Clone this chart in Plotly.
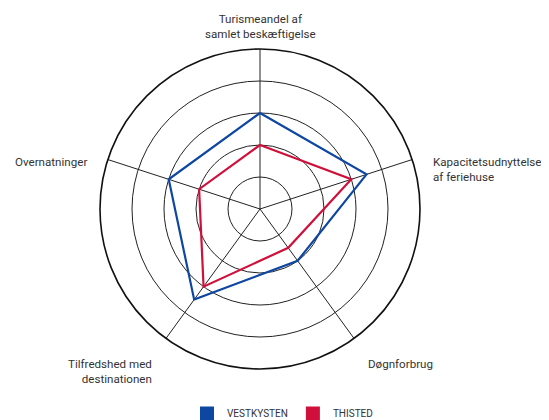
import math
import plotly.graph_objects as go

categories = [
    "Turismeandel af<br>samlet beskæftigelse",
    "Kapacitetsudnyttelse<br>af feriehuse",
    "Døgnforbrug",
    "Tilfredshed med<br>destinationen",
    "Overnatninger",
]
vestkysten = [3.0, 3.5, 2.0, 3.5, 3.0]
thisted = [2.0, 3.0, 1.5, 3.0, 2.0]
series_names = ["VESTKYSTEN", "THISTED"]
colors = ["#0D47A1", "#D0103A"]

fig = go.Figure()
for name, vals, col in zip(series_names, [vestkysten, thisted], colors):
    fig.add_trace(go.Scatterpolar(
        r=vals + vals[:1], theta=categories + categories[:1],
        mode="lines", line=dict(color=col, width=2.2),
        showlegend=False, hoverinfo="skip",
    ))
for name, col in zip(series_names, colors):
    fig.add_trace(go.Scatterpolar(
        r=[None], theta=[categories[0]], mode="markers", name=name,
        marker=dict(symbol="square", size=14, color=col),
    ))

W, H = 549, 420
cx, cy, R = 252, 201, 160

# category labels placed around the outer circle
annotations = []
n = len(categories)
for i, lab in enumerate(categories):
    ang = math.pi / 2 - 2 * math.pi * i / n
    c, s = math.cos(ang), math.sin(ang)
    if abs(c) < 0.1:
        d = R + 6
        xa, ya = "center", ("bottom" if s > 0 else "top")
    else:
        d = R + 20
        xa, ya = ("left" if c > 0 else "right"), "top"
    px = cx + d * c
    py = cy - d * s
    annotations.append(dict(
        text=lab, x=px / W, y=1 - py / H, xref="paper", yref="paper",
        xanchor=xa, yanchor=ya, align=xa if xa != "center" else "center",
        showarrow=False, font=dict(size=11.6, color="#333333"),
    ))

fig.update_layout(
    width=W, height=H,
    margin=dict(l=0, r=0, t=0, b=0),
    paper_bgcolor="white", plot_bgcolor="white",
    font=dict(family="Roboto", size=12, color="#333333"),
    annotations=annotations,
    polar=dict(
        domain=dict(x=[(cx - R) / W, (cx + R) / W], y=[(H - cy - R) / H, (H - cy + R) / H]),
        bgcolor="white",
        radialaxis=dict(range=[0, 5], tickvals=[1, 2, 3, 4], showticklabels=False,
                        ticks="", showline=False, gridcolor="#222222", gridwidth=1),
        angularaxis=dict(direction="clockwise", rotation=90, ticks="",
                         showticklabels=False,
                         showline=True, linecolor="#111111", linewidth=1.6,
                         gridcolor="#222222", gridwidth=1),
    ),
    legend=dict(orientation="h", x=0.5, xanchor="center", y=0.0, yanchor="bottom",
                font=dict(size=10, color="#333333"), itemwidth=30, tracegroupgap=0),
)
fig.write_html("out.html")
